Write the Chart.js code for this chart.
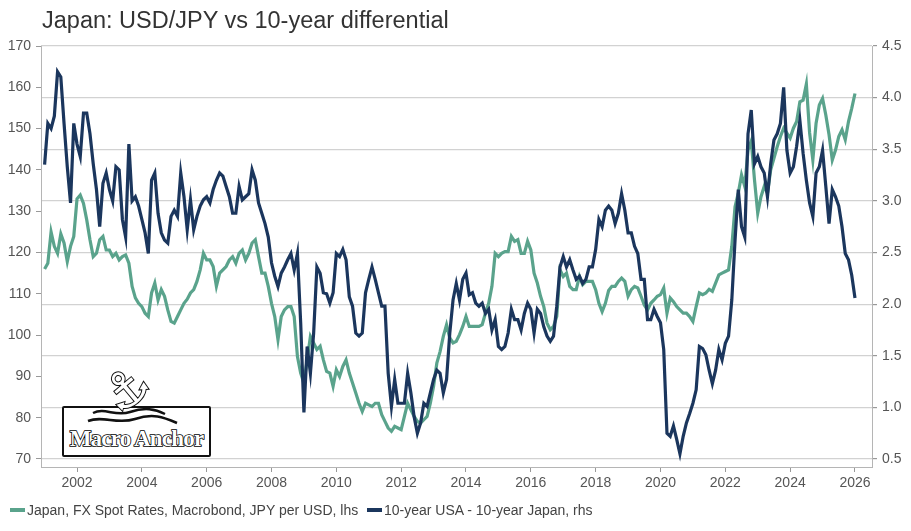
<!DOCTYPE html>
<html>
<head>
<meta charset="utf-8">
<script src="https://cdn.jsdelivr.net/npm/chart.js@4.4.1/dist/chart.umd.min.js"></script>
<style>
  html, body { margin: 0; padding: 0; background: #fff; }
  #wrap { position: relative; width: 911px; height: 531px; font-family: "Liberation Sans", Arial, sans-serif; }
  #chart { position: absolute; left: 0; top: 0; }
  #title { position: absolute; left: 42px; top: 9px; font-size: 23.5px; line-height: 23.5px; color: #333; white-space: nowrap; }
  .leg { position: absolute; top: 502px; height: 16px; display: flex; align-items: center; font-size: 14px; color: #444; white-space: nowrap; }
  .leg i { display: inline-block; width: 15px; height: 4px; margin-right: 2px; }
  #logo { position: absolute; left: 62px; top: 406px; width: 145px; height: 47px; border: 2px solid #111; border-radius: 2px; background: #fff; }
  #logo span { position: absolute; left: 0; right: 0; top: 18px; text-align: center; font-family: "Liberation Serif", serif; font-weight: bold; font-size: 23px; letter-spacing: -0.8px; color: #fff; -webkit-text-stroke: 1.6px #000; paint-order: stroke fill; }
  #anchor { position: absolute; left: 104px; top: 364px; font-family: "DejaVu Sans", sans-serif; font-size: 50px; line-height: 50px; color: #fff; -webkit-text-stroke: 2px #111; paint-order: stroke fill; transform: rotate(-40deg); }
  #waves { position: absolute; left: 85px; top: 405px; }
</style>
</head>
<body>
<div id="wrap">
  <canvas id="chart" width="911" height="531"></canvas>
  <div id="title">Japan: USD/JPY vs 10-year differential</div>
  <div id="logo"><span>Macro Anchor</span></div>
  <div id="anchor">&#9875;</div>
  <svg id="waves" width="100" height="30">
    <path d="M8 8 C20 2, 30 12, 45 7 S70 4, 80 9" stroke="#111" stroke-width="2.5" fill="none"/>
    <path d="M3 16 C18 10, 32 20, 50 14 S78 12, 92 18" stroke="#111" stroke-width="2.5" fill="none"/>
  </svg>
  <div class="leg" style="left:10px"><i style="background:#5aa38c"></i>Japan, FX Spot Rates, Macrobond, JPY per USD, lhs</div>
  <div class="leg" style="left:367px"><i style="background:#1b365d"></i>10-year USA - 10-year Japan, rhs</div>
</div>
<script>
// sample dates (decimal years)
const years = [
  2001.0, 2001.1, 2001.2, 2001.3, 2001.4, 2001.5, 2001.6, 2001.7, 2001.8, 2001.9,
  2002.0, 2002.1, 2002.2, 2002.3, 2002.4, 2002.5, 2002.6, 2002.7, 2002.8, 2002.9,
  2003.0, 2003.1, 2003.2, 2003.3, 2003.4, 2003.5, 2003.6, 2003.7, 2003.8, 2003.9,
  2004.0, 2004.1, 2004.2, 2004.3, 2004.4, 2004.5, 2004.6, 2004.7, 2004.8, 2004.9,
  2005.0, 2005.1, 2005.2, 2005.3, 2005.4, 2005.5, 2005.6, 2005.7, 2005.8, 2005.9,
  2006.0, 2006.1, 2006.2, 2006.3, 2006.4, 2006.5, 2006.6, 2006.7, 2006.8, 2006.9,
  2007.0, 2007.1, 2007.2, 2007.3, 2007.4, 2007.5, 2007.6, 2007.7, 2007.8, 2007.9,
  2008.0, 2008.1, 2008.2, 2008.3, 2008.4, 2008.5, 2008.6, 2008.7, 2008.8, 2008.9,
  2009.0, 2009.1, 2009.2, 2009.3, 2009.4, 2009.5, 2009.6, 2009.7, 2009.8, 2009.9,
  2010.0, 2010.1, 2010.2, 2010.3, 2010.4, 2010.5, 2010.6, 2010.7, 2010.8, 2010.9,
  2011.0, 2011.1, 2011.2, 2011.3, 2011.4, 2011.5, 2011.6, 2011.7, 2011.8, 2011.9,
  2012.0, 2012.1, 2012.2, 2012.3, 2012.4, 2012.5, 2012.6, 2012.7, 2012.8, 2012.9,
  2013.0, 2013.1, 2013.2, 2013.3, 2013.4, 2013.5, 2013.6, 2013.7, 2013.8, 2013.9,
  2014.0, 2014.1, 2014.2, 2014.3, 2014.4, 2014.5, 2014.6, 2014.7, 2014.8, 2014.9,
  2015.0, 2015.1, 2015.2, 2015.3, 2015.4, 2015.5, 2015.6, 2015.7, 2015.8, 2015.9,
  2016.0, 2016.1, 2016.2, 2016.3, 2016.4, 2016.5, 2016.6, 2016.7, 2016.8, 2016.9,
  2017.0, 2017.1, 2017.2, 2017.3, 2017.4, 2017.5, 2017.6, 2017.7, 2017.8, 2017.9,
  2018.0, 2018.1, 2018.2, 2018.3, 2018.4, 2018.5, 2018.6, 2018.7, 2018.8, 2018.9,
  2019.0, 2019.1, 2019.2, 2019.3, 2019.4, 2019.5, 2019.6, 2019.7, 2019.8, 2019.9,
  2020.0, 2020.1, 2020.2, 2020.3, 2020.4, 2020.5, 2020.6, 2020.7, 2020.8, 2020.9,
  2021.0, 2021.1, 2021.2, 2021.3, 2021.4, 2021.5, 2021.6, 2021.7, 2021.8, 2021.9,
  2022.0, 2022.1, 2022.2, 2022.3, 2022.4, 2022.5, 2022.6, 2022.7, 2022.8, 2022.9,
  2023.0, 2023.1, 2023.2, 2023.3, 2023.4, 2023.5, 2023.6, 2023.7, 2023.8, 2023.9,
  2024.0, 2024.1, 2024.2, 2024.3, 2024.4, 2024.5, 2024.6, 2024.7, 2024.8, 2024.9,
  2025.0, 2025.1, 2025.2, 2025.3, 2025.4, 2025.5, 2025.6, 2025.7, 2025.8, 2025.9,
  2026.0
];

// USD/JPY, lhs
const usdJpy = [
  116, 117.4, 125, 121.5, 119.8, 124.5, 122.3, 117.8, 121.5, 123.9,
  133, 133.9, 131.9, 127.9, 123.1, 119, 119.8, 123.1, 123.9, 120.6,
  120.6, 119, 119.8, 118.2, 119, 119.4, 117.4, 111.8, 109, 107.7,
  106.9, 105.3, 104.5, 110.2, 112.6, 108.5, 111, 109.4, 106.1, 103.3,
  102.9, 104.5, 106.1, 107.7, 108.7, 110.2, 111, 113, 115.8, 119.8,
  118.2, 118.2, 116.6, 111.8, 115, 115.8, 116.6, 118.2, 119, 117.4,
  119.8, 120.6, 118.2, 119.8, 122.3, 123.1, 119, 115, 115, 111.8,
  107.7, 104.5, 98.9, 104.5, 106.1, 106.9, 106.9, 104.5, 94.8, 90.8,
  88.4, 94, 99.7, 98.1, 96.5, 97.3, 94, 91.2, 90.8, 87.6,
  91.6, 90, 92.4, 94, 90.8, 88.4, 86, 83.5, 81.5, 83.5,
  83.1, 82.7, 83.5, 83.5, 80.7, 79.1, 77.5, 76.7, 77.9, 77.5,
  77.1, 80.3, 83.5, 81.9, 80.3, 79.1, 78.7, 79.5, 80.3, 83.5,
  87.6, 93.2, 96, 99.7, 102.5, 99.3, 98.1, 98.5, 100.1, 102.1,
  104.5, 102.1, 102.1, 102.1, 102.1, 102.5, 105.3, 107.7, 111.8, 119.8,
  119, 119.8, 120.2, 120.2, 123.9, 122.7, 123.1, 119.8, 119.8, 122.7,
  120.6, 115, 112.6, 109.4, 106.9, 102.9, 101.3, 102.1, 104.5, 115.8,
  114.2, 115, 111.8, 111, 111, 114.2, 112.2, 113, 113, 113,
  111, 107.7, 105.7, 107.7, 110.8, 111.8, 111.8, 113, 113.8, 113,
  109.4, 111, 111.8, 111.4, 109.4, 107.3, 106.1, 107.7, 108.5, 109.4,
  109.8, 111.4, 105.3, 109, 108.1, 106.9, 106.1, 105.3, 105.3, 104.5,
  103.3, 106.9, 110.2, 109.8, 110.2, 111.1, 110.6, 112.6, 114.6, 115,
  115.4, 115.8, 121.5, 131.1, 134.4, 138.8, 136, 144.8, 147, 137.6,
  129.5, 133.5, 136, 134.4, 140, 142.8, 145.6, 148.1, 150.1, 148.9,
  147.7, 150.1, 151.7, 156.5, 156.9, 160.8, 149, 142.4, 151.3, 155.7,
  157.3, 153.3, 148.5, 142.4, 144.8, 148.1, 149.7, 147.3, 151.7, 154.9,
  158.5
];

// 10y US minus 10y Japan, rhs
const spread = [
  3.35, 3.75, 3.7, 3.82, 4.25, 4.2, 3.75, 3.33, 2.98, 3.75,
  3.55, 3.43, 3.85, 3.85, 3.65, 3.36, 3.11, 2.75, 3.17, 3.27,
  3.11, 3.0, 3.33, 3.3, 2.82, 2.65, 3.55, 3.0, 3.04, 2.95,
  2.82, 2.69, 2.49, 3.2, 3.27, 2.88, 2.69, 2.62, 2.59, 2.85,
  2.91, 2.85, 3.27, 3.04, 2.72, 3.01, 2.72, 2.85, 2.95, 3.01,
  3.04, 2.98, 3.11, 3.2, 3.27, 3.24, 3.14, 3.04, 2.88, 2.88,
  3.14, 3.01, 3.04, 3.07, 3.3, 3.2, 2.98, 2.88, 2.78, 2.65,
  2.4, 2.27, 2.17, 2.3, 2.36, 2.43, 2.49, 2.33, 2.49, 1.82,
  0.95, 1.59, 1.33, 1.72, 2.36, 2.3, 2.11, 2.1, 2.01, 2.11,
  2.49, 2.46, 2.53, 2.43, 2.07, 1.98, 1.72, 1.69, 1.72, 2.11,
  2.24, 2.36, 2.24, 2.11, 1.98, 1.98, 1.33, 1.01, 1.27, 1.04,
  1.04, 1.04, 1.33, 1.14, 0.91, 0.75, 0.85, 1.04, 1.01, 1.14,
  1.27, 1.36, 1.33, 1.14, 1.27, 1.72, 2.04, 2.2, 2.04, 2.24,
  2.3, 2.09, 2.11, 2.01, 1.98, 2.01, 1.91, 1.95, 1.75, 1.85,
  1.59, 1.56, 1.59, 1.72, 1.95, 1.85, 1.85, 1.75, 1.91, 2.01,
  1.95, 1.72, 1.95, 1.91, 1.78, 1.69, 1.64, 1.69, 1.98, 2.36,
  2.46, 2.36, 2.43, 2.33, 2.24, 2.27, 2.2, 2.24, 2.36, 2.36,
  2.53, 2.82, 2.75, 2.91, 2.95, 2.91, 2.78, 2.88, 3.07, 2.91,
  2.69, 2.69, 2.56, 2.49, 2.24, 2.24, 1.85, 1.85, 1.95, 1.88,
  1.82, 1.56, 0.75, 0.72, 0.82, 0.69, 0.55, 0.72, 0.85, 0.94,
  1.04, 1.17, 1.59, 1.57, 1.51, 1.36, 1.23, 1.36, 1.56, 1.46,
  1.62, 1.69, 2.04, 2.62, 3.11, 2.75, 2.65, 3.65, 3.88, 3.36,
  3.43, 3.33, 3.27, 3.04, 3.36, 3.59, 3.65, 3.75, 4.1, 3.49,
  3.27, 3.33, 3.53, 3.78, 3.46, 3.2, 2.98, 2.85, 3.27, 3.33,
  3.49, 3.14, 2.78, 3.11, 3.04, 2.95, 2.75, 2.49, 2.43, 2.28,
  2.06
];

const xTicks = [2002, 2004, 2006, 2008, 2010, 2012, 2014, 2016, 2018, 2020, 2022, 2024, 2026];
const leftTicks = [70, 80, 90, 100, 110, 120, 130, 140, 150, 160, 170];
const rightTicks = [0.5, 1.0, 1.5, 2.0, 2.5, 3.0, 3.5, 4.0, 4.5];

const tickFont = { family: '"Liberation Sans", Arial, sans-serif', size: 14 };

new Chart(document.getElementById('chart'), {
  type: 'line',
  data: {
    datasets: [{
      label: 'Japan, FX Spot Rates, Macrobond, JPY per USD, lhs',
      data: years.map((x, i) => ({ x: x, y: usdJpy[i] })),
      borderColor: '#5aa38c',
      borderWidth: 3.2,
      pointRadius: 0,
      tension: 0,
      yAxisID: 'y',
      order: 1
    }, {
      label: '10-year USA - 10-year Japan, rhs',
      data: years.map((x, i) => ({ x: x, y: spread[i] })),
      borderColor: '#1b365d',
      borderWidth: 3.2,
      pointRadius: 0,
      tension: 0,
      yAxisID: 'y2',
      order: 0
    }]
  },
  options: {
    responsive: false,
    animation: false,
    layout: { padding: { top: 46, left: 0, right: 0, bottom: 0 } },
    plugins: {
      legend: { display: false },
      tooltip: { enabled: false },
      title: { display: false }
    },
    scales: {
      x: {
        type: 'linear',
        min: 2000.889,
        max: 2026.525,
        afterBuildTicks: s => { s.ticks = xTicks.map(v => ({ value: v })); },
        afterFit: s => { s.height = 64; },
        grid: { drawOnChartArea: false, tickLength: 5, tickColor: '#999' },
        border: { color: '#b5b5b5' },
        ticks: { color: '#555', font: tickFont, padding: 3, maxRotation: 0, callback: v => String(v) }
      },
      y: {
        position: 'left',
        min: 68.06,
        max: 170,
        afterBuildTicks: s => { s.ticks = leftTicks.map(v => ({ value: v })); },
        afterFit: s => { s.width = 41; },
        grid: { drawOnChartArea: false, tickLength: 5, tickColor: '#999' },
        border: { color: '#b5b5b5' },
        ticks: { color: '#555', font: tickFont, padding: 5 }
      },
      y2: {
        position: 'right',
        min: 0.4225,
        max: 4.5,
        afterBuildTicks: s => { s.ticks = rightTicks.map(v => ({ value: v })); },
        afterFit: s => { s.width = 39; },
        grid: { drawOnChartArea: true, color: '#d2d2d2', lineWidth: 1.2, tickLength: 5, tickColor: '#999' },
        border: { color: '#b5b5b5' },
        ticks: { color: '#555', font: tickFont, padding: 5, callback: v => v.toFixed(1) }
      }
    }
  }
});
</script>
</body>
</html>
